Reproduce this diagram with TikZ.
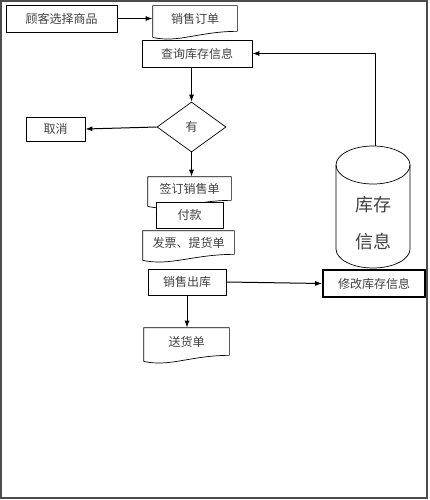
\documentclass[tikz,border=0pt]{standalone}
\usepackage{fontspec}
\setmainfont{Noto Sans CJK SC}
\usetikzlibrary{shapes.geometric,arrows.meta,calc}

\tikzset{
    box/.style={draw, rectangle, inner sep=0pt, font=\fontsize{12}{14}\selectfont, text=black!75},
    docnode/.style={rectangle, inner sep=0pt, font=\fontsize{12}{14}\selectfont, text=black!75},
    decision/.style={draw, diamond, inner sep=0pt, font=\fontsize{12}{14}\selectfont, text=black!75},
    arr/.style={-{Latex[length=7pt,width=5pt]}, line width=1pt},
}

\begin{document}
\begin{tikzpicture}[x=1pt,y=-1pt,line width=0.7pt]
    \useasboundingbox (0,0) rectangle (429,500);
    \draw[line width=1.2pt, black!70] (1,1) rectangle (427,498);

    % documents
    \node[docnode, minimum width=84pt, minimum height=25pt] (order) at (195,18.5) {销售订单};
    \node[docnode, minimum width=83pt, minimum height=23pt] (sign) at (189.5,188.5) {签订销售单};
    \node[docnode, minimum width=91pt, minimum height=23pt] (bill) at (188.5,242.5) {发票、提货单};
    \node[docnode, minimum width=85pt, minimum height=27pt] (ship) at (186.5,341.5) {送货单};
    \foreach \n in {order,sign,bill,ship}
        \draw (\n.south east) -- (\n.north east) -- (\n.north west) -- ($(\n.south west)+(0,6)$)
            .. controls ($(\n.south west)!0.3!(\n.south east)+(0,12)$) and ($(\n.south west)!0.55!(\n.south east)$) .. (\n.south east);

    \node[box, minimum width=111pt, minimum height=27pt] (cust) at (61.5,18.5) {顾客选择商品};
    \node[box, minimum width=110pt, minimum height=27pt] (query) at (197,53.5) {查询库存信息};
    \node[decision, minimum width=69pt, minimum height=50pt] (dia) at (191.5,127) {有};
    \node[box, minimum width=59pt, minimum height=24pt] (cancel) at (55.5,129) {取消};
    \node[box, fill=white, minimum width=67pt, minimum height=26pt] (pay) at (189.5,215) {付款};
    \node[box, minimum width=78pt, minimum height=26pt] (out) at (187,282) {销售出库};
    \node[box, line width=1.6pt, minimum width=102pt, minimum height=27pt] (modify) at (374,283.5) {修改库存信息};

    % stock cylinder
    \draw (373,165) ellipse [x radius=37pt, y radius=19pt];
    \draw (336,165) -- (336,249) arc [start angle=180, end angle=360, x radius=37pt, y radius=19pt] -- (410,165);
    \node[align=center, font=\fontsize{18}{37}\selectfont, text=black!75] (stock) at (373,223) {库存\\信息};
    \coordinate (stocktop) at (375,146);

    \draw[arr] (cust.east) -- (cust.east -| order.west);
    \draw[arr] (stocktop) |- (query.east);
    \draw[arr] (dia.north |- query.south) -- (dia.north);
    \draw[arr] (dia.west) -- (cancel.east);
    \draw[arr] (dia.south) -- (dia.south |- sign.north);
    \draw[arr] (out.east) -- (modify.west);
    \draw[arr] (out.south) -- (out.south |- ship.north);
\end{tikzpicture}
\end{document}
